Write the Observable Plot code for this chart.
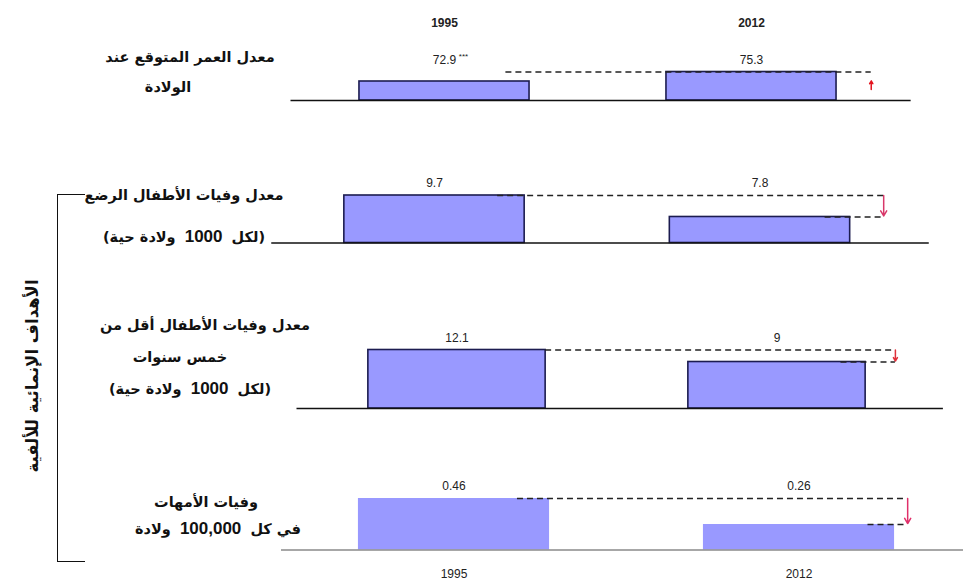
<!DOCTYPE html>
<html><head><meta charset="utf-8">
<script src="https://cdn.jsdelivr.net/npm/d3@7"></script>
<script src="https://cdn.jsdelivr.net/npm/@observablehq/plot@0.6"></script>
<style>
body{margin:0;background:#fff;}
#chart{position:relative;width:963px;height:586px;overflow:hidden;background:#fff;}
.panel{position:absolute;left:0;}
.lbl{position:absolute;width:300px;text-align:center;direction:rtl;font-family:"DejaVu Sans","Noto Sans",sans-serif;font-weight:bold;font-size:14.5px;line-height:20px;color:#111;white-space:nowrap;}
.lbl .num{font-family:"Liberation Sans","Arial",sans-serif;font-size:17px;font-weight:bold;margin:0 4px;}
.title{position:absolute;width:260px;height:20px;text-align:center;direction:rtl;font-family:"DejaVu Sans","Noto Sans",sans-serif;font-weight:bold;font-size:16.5px;line-height:20px;color:#111;transform:rotate(-90deg);white-space:nowrap;}
.bracket{position:absolute;border-left:1.6px solid #111;border-top:1.6px solid #111;border-bottom:1.6px solid #111;}
</style></head><body><div id="chart"></div>
<script>
// ---- data ----
const years = ["1995", "2012"];
const lifeExpectancy = [72.9, 75.3];
const infantMortality = [9.7, 7.8];
const under5Mortality = [12.1, 9];
const maternalMortality = [0.46, 0.26];
const lifeFootnote = ["***", ""];
const groupTitle = "الأهداف الإنمائية للألفية";
const rowLabels = [
  ["معدل العمر المتوقع عند", "الولادة"],
  ["معدل وفيات الأطفال الرضع", "(لكل 1000 ولادة حية)"],
  ["معدل وفيات الأطفال أقل من", "خمس سنوات", "(لكل 1000 ولادة حية)"],
  ["وفيات الأمهات", "في كل 100,000 ولادة"]
];

// ---- layout (positions / scale settings, not data) ----
const panels = [
  {values: lifeExpectancy, notes: lifeFootnote, top: 0, height: 130, centers: [444, 751], yDomain: [68.1, 75.3], yRange: [100, 71.5], lineStart: 0.2, arrowX: 1.39, arrowDy: 8, barStroke: "#1c1c50", baseStroke: "#111", arrowColor: "#e3141e", axis: "top",
   labelPos: [[190, 57], [168, 87]]},
  {values: infantMortality, notes: ["", ""], top: 130, height: 150, centers: [434, 759.5], yDomain: [5.5, 9.7], yRange: [112.5, 65], lineStart: 0.194, arrowX: 1.38, arrowDy: 0, barStroke: "#1c1c50", baseStroke: "#111", arrowColor: "#d8386a", axis: null,
   labelPos: [[184, 195], [184, 237]]},
  {values: under5Mortality, notes: ["", ""], top: 280, height: 160, centers: [456.5, 776.5], yDomain: [-3, 12.1], yRange: [128, 69.5], lineStart: 0.277, arrowX: 1.37, arrowDy: 0, barStroke: "#1c1c50", baseStroke: "#111", arrowColor: "#e0303a", axis: null,
   labelPos: [[205, 325], [180, 357], [190, 389]]},
  {values: maternalMortality, notes: ["", ""], top: 440, height: 146, centers: [453.5, 798.5], yDomain: [0.064, 0.46], yRange: [109.5, 58], lineStart: 0.184, arrowX: 1.315, arrowDy: 0, barStroke: "none", baseStroke: "#8a8a8a", arrowColor: "#e0306a", axis: "bottom",
   labelPos: [[206, 502], [218, 529]]}
];
const halfBar = 0.277;

const chart = document.getElementById("chart");
const numFont = "'Liberation Sans Narrow','Liberation Sans',Arial,sans-serif";

panels.forEach((p, k) => {
  const data = years.map((year, i) => ({i, year, value: p.values[i], note: p.notes[i]}));
  const maxV = d3.max(p.values);
  const [v0, v1] = p.values;
  const marks = [
    Plot.rectY(data, {x1: d => d.i - halfBar, x2: d => d.i + halfBar, y1: p.yDomain[0], y2: "value", fill: "#9999ff", stroke: p.barStroke, strokeWidth: 1.6}),
    Plot.ruleY([p.yDomain[0]], {x1: -0.5, x2: 1.52, stroke: p.baseStroke, strokeWidth: 1.7}),
    Plot.ruleY([maxV], {x1: p.lineStart, x2: p.arrowX, stroke: "#222", strokeWidth: 1.6, strokeDasharray: "6,4"}),
    Plot.arrow([{from: v0, to: v1}], {x1: p.arrowX, x2: p.arrowX, y1: "from", y2: "to", stroke: p.arrowColor, strokeWidth: 1.5, headLength: 6, insetEnd: 1, dy: p.arrowDy}),
    Plot.text(data, {x: "i", y: () => maxV, text: d => String(d.value), dy: -12, fontSize: 12, fill: "#222"}),
    Plot.text(data, {x: "i", y: () => maxV, text: "note", dx: 19, dy: -16, fontSize: 8, fill: "#222"})
  ];
  if (v1 < v0) {
    marks.push(Plot.ruleY([v1], {x1: 1.2, x2: p.arrowX, stroke: "#222", strokeWidth: 1.6, strokeDasharray: "6,4"}));
  }
  if (p.axis === "top") {
    marks.push(Plot.axisX({anchor: "top", ticks: [0, 1], tickFormat: i => years[i], tickSize: 0, tickPadding: 4, fontSize: 12, fontWeight: "bold", label: null}));
  } else if (p.axis === "bottom") {
    marks.push(Plot.axisX({anchor: "bottom", ticks: [0, 1], tickFormat: i => years[i], tickSize: 0, tickPadding: 6, fontSize: 12, label: null}));
  }
  const svg = Plot.plot({
    width: 963,
    height: p.height,
    marginLeft: 0,
    marginRight: 0,
    marginTop: p.axis === "top" ? 30 : 0,
    marginBottom: p.axis === "bottom" ? 23 : 0,
    x: {type: "linear", domain: [0, 1], range: p.centers, axis: null},
    y: {type: "linear", domain: p.yDomain, range: p.yRange, axis: null},
    style: {fontFamily: numFont, fontSize: "12px", background: "transparent", overflow: "visible", color: "#222"},
    marks
  });
  svg.classList.add("panel");
  svg.style.top = p.top + "px";
  chart.appendChild(svg);

  rowLabels[k].forEach((line, j) => {
    const [cx, cy] = p.labelPos[j];
    const div = document.createElement("div");
    div.className = "lbl";
    div.style.left = (cx - 150) + "px";
    div.style.top = (cy - 10) + "px";
    div.innerHTML = line.replace(/([\d,]{3,})/, '<span class="num">$1</span>');
    chart.appendChild(div);
  });
});

const bracket = document.createElement("div");
bracket.className = "bracket";
bracket.style.left = "57px";
bracket.style.top = "194px";
bracket.style.width = "27px";
bracket.style.height = "366px";
chart.appendChild(bracket);

const title = document.createElement("div");
title.className = "title";
title.textContent = groupTitle;
title.style.left = (33 - 130) + "px";
title.style.top = (376 - 10) + "px";
chart.appendChild(title);
</script>
</body></html>
